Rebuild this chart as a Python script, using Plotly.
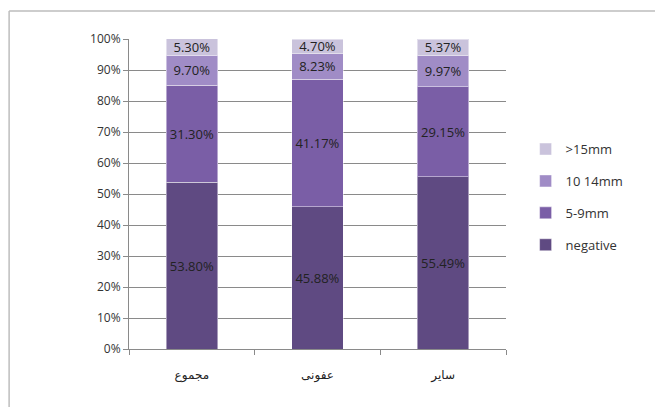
import plotly.graph_objects as go

categories = ["مجموع", "عفونی", "سایر"]
series_names = ["negative", "5-9mm", "10 14mm", ">15mm"]
negative = [53.80, 45.88, 55.49]
mm5_9 = [31.30, 41.17, 29.15]
mm10_14 = [9.70, 8.23, 9.97]
mm15 = [5.30, 4.70, 5.37]
colors = ["#5f4a82", "#7a5ea6", "#a08cc6", "#cac3dc"]
y_ticks = [0, 10, 20, 30, 40, 50, 60, 70, 80, 90, 100]
y_tick_labels = [f"{v}%" for v in y_ticks]

fig = go.Figure()
for i, (name, vals, col) in enumerate(zip(series_names, [negative, mm5_9, mm10_14, mm15], colors)):
    fig.add_trace(go.Bar(
        x=categories, y=vals, name=name, legendgroup=name,
        legendrank=1000 - i,
        marker=dict(color=col, line=dict(color="rgba(255,255,255,0.45)", width=1)),
        text=[f"{v:.2f}%" for v in vals],
        textposition="inside", insidetextanchor="middle",
        textfont=dict(color="#222222", size=13, family="Open Sans"),
    ))

fig.update_layout(
    width=655, height=407,
    barmode="stack", bargap=0.59,
    paper_bgcolor="white", plot_bgcolor="white",
    margin=dict(l=129, r=149, t=39, b=58),
    font=dict(family="Open Sans", size=12, color="#333333"),
    uniformtext=dict(minsize=13, mode="show"),
    legend=dict(x=1.052, xanchor="left", y=0.49, yanchor="middle",
                traceorder="grouped", tracegroupgap=12, itemwidth=30,
                font=dict(size=13, color="#333333"), bgcolor="rgba(0,0,0,0)"),
    xaxis=dict(type="category", showline=True, linecolor="#8a8a8a", linewidth=1,
               ticks="outside", tickson="boundaries", ticklen=5, tickcolor="#8a8a8a",
               showgrid=False, ticklabelstandoff=15,
               tickfont=dict(family="DejaVu Sans", size=12, color="#222222")),
    yaxis=dict(range=[0, 100], tickvals=y_ticks, ticktext=y_tick_labels,
               showline=True, linecolor="#8a8a8a", linewidth=1,
               ticks="outside", ticklen=5, tickcolor="#8a8a8a",
               showgrid=True, gridcolor="#8a8a8a", gridwidth=1, zeroline=False,
               tickfont=dict(size=12, color="#333333")),
)

# outer chart border (left and top edges visible)
fig.add_shape(type="line", xref="paper", yref="paper", x0=-0.318, x1=-0.318, y0=-0.3, y1=1.09,
              line=dict(color="#bdbdbd", width=1.5))
fig.add_shape(type="line", xref="paper", yref="paper", x0=-0.318, x1=1.6, y0=1.09, y1=1.09,
              line=dict(color="#bdbdbd", width=1.5))

fig.write_html("out.html")
